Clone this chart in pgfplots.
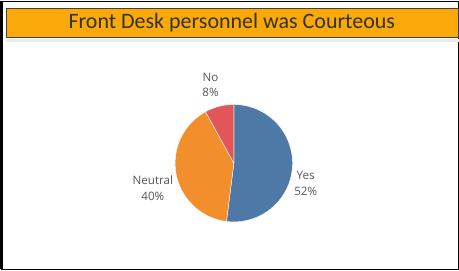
\documentclass[border=0pt]{standalone}
\usepackage{pgfplots}
\pgfplotsset{compat=1.18}
\usepackage{fontspec}
\setmainfont{Carlito}
\newfontfamily\lblfont{Open Sans}
\definecolor{cyes}{HTML}{4E79A7}
\definecolor{cneu}{HTML}{F28E2B}
\definecolor{cno}{HTML}{E15759}
\definecolor{bar}{HTML}{FBA90A}
\definecolor{ttl}{HTML}{33331F}
\definecolor{lbl}{HTML}{555555}
\begin{document}
\begin{tikzpicture}
% data (percent)
\def\vyes{52}\def\vneu{40}\def\vno{8}
\pgfmathsetmacro{\aA}{90}
\pgfmathsetmacro{\aB}{90-3.6*\vyes}
\pgfmathsetmacro{\aC}{\aB-3.6*\vneu}
\pgfmathsetmacro{\aD}{\aC-3.6*\vno}
\begin{axis}[
  scale only axis, width=459bp, height=269bp,
  xmin=0, xmax=459, ymin=0, ymax=269,
  hide axis, clip=false,
]
% frame
\draw[black, line width=1bp] (axis cs:6,2) rectangle (axis cs:458,266.5);
\draw[black, line width=2.5bp] (axis cs:6.2,2) -- (axis cs:6.2,267);
% title bar shadow
\fill[black!8] (axis cs:11,227) rectangle (axis cs:458,230);
\draw[fill=bar, draw=black!75, line width=0.8bp] (axis cs:11,231) rectangle (axis cs:457.5,260);
\node[text=ttl, font=\fontsize{21.8}{23}\selectfont] at (axis cs:234,245.5) {Front Desk personnel was Courteous};
% pie
\addplot[fill=cyes, draw=white, line width=0.4bp, domain=\aB:\aA, samples=80]
  ({236+58*cos(x)},{107+58*sin(x)}) -- (axis cs:236,107) -- cycle;
\addplot[fill=cneu, draw=white, line width=0.4bp, domain=\aC:\aB, samples=80]
  ({236+58*cos(x)},{107+58*sin(x)}) -- (axis cs:236,107) -- cycle;
\addplot[fill=cno, draw=white, line width=0.4bp, domain=\aD:\aC, samples=20]
  ({236+58*cos(x)},{107+58*sin(x)}) -- (axis cs:236,107) -- cycle;
% labels
\tikzset{lb/.style={text=lbl, font=\lblfont\fontsize{11.5}{15.5}\selectfont, align=center, inner sep=0pt}}
\node[lb] at (axis cs:213,184.5) {No\\8\%};
\node[lb] at (axis cs:156,82.5) {Neutral\\40\%};
\node[lb] at (axis cs:307,87) {Yes\\52\%};
\end{axis}
\end{tikzpicture}
\end{document}
